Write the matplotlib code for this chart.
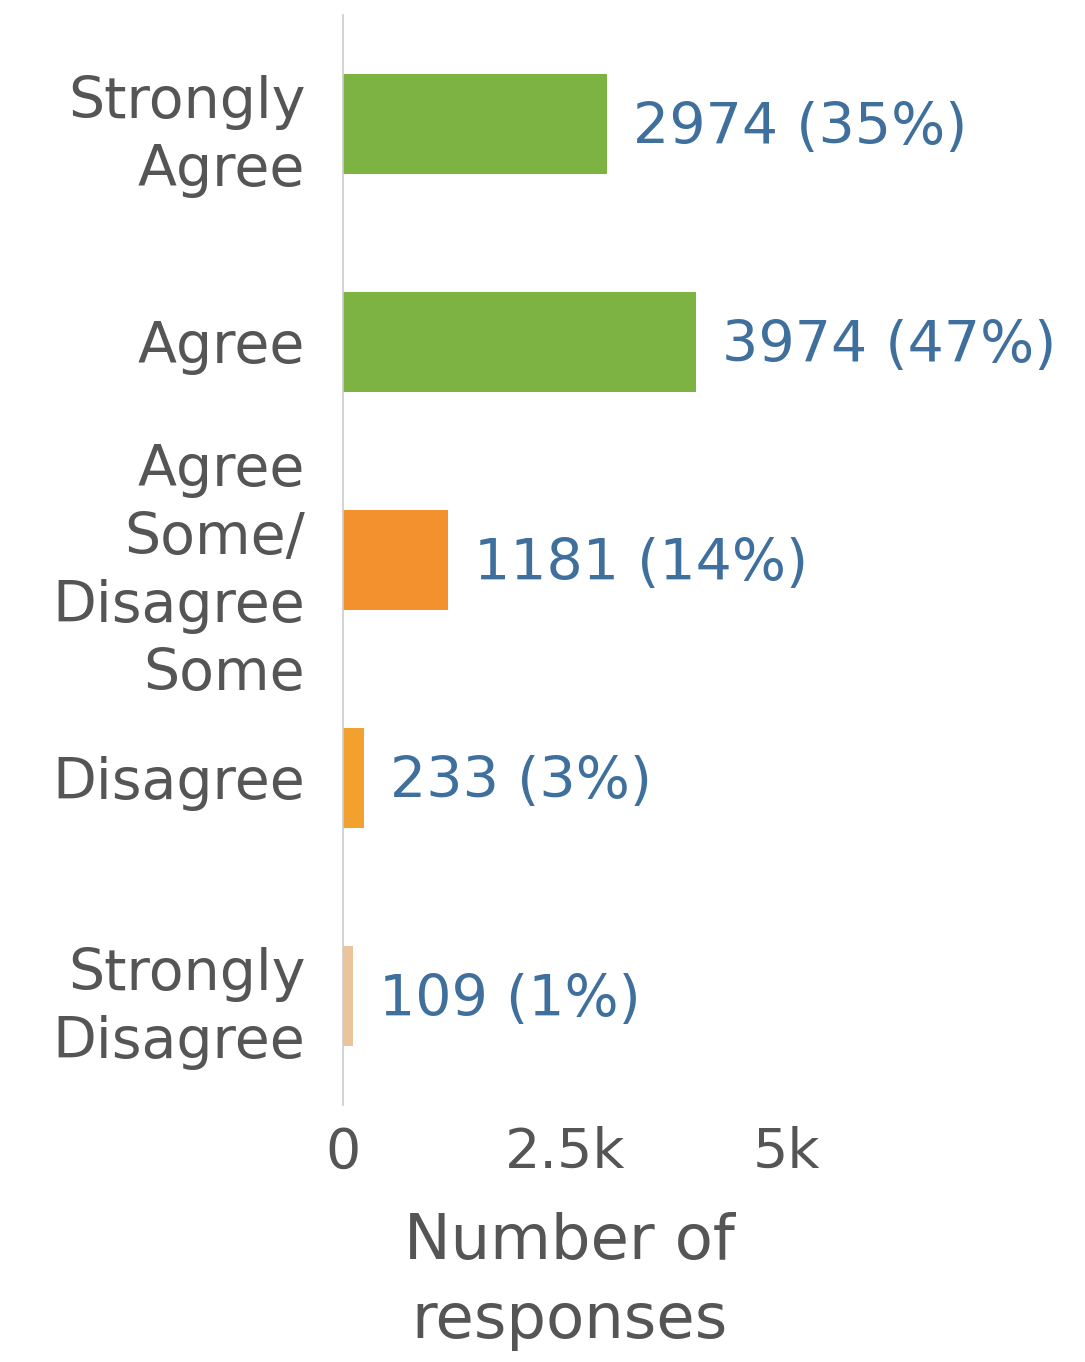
import numpy as np
import matplotlib
matplotlib.use("Agg")
import matplotlib.pyplot as plt
import matplotlib.transforms as mtransforms

# datos
categorias = ["Strongly\nAgree", "Agree", "Agree\nSome/\nDisagree\nSome", "Disagree", "Strongly\nDisagree"]
respuestas = [2974, 3974, 1181, 233, 109]
colores = ["#7cb342", "#7cb342", "#f4912f", "#f2a02e", "#ecc49c"]
ticks_x = [0, 2500, 5000]
ticks_txt = ["0", "2.5k", "5k"]

total = sum(respuestas)
pos = np.arange(len(categorias))

plt.rcParams['font.family'] = ['DejaVu Sans']
fig = plt.figure(figsize=(10.85, 13.62), dpi=100)
ax = fig.add_axes([0.316, 0.1887, 0.684, 0.8003])

ax.barh(pos, respuestas, height=0.46, color=colores)
ax.set_ylim(4.5, -0.5)
ax.set_xlim(0, 8356)

for y, v in zip(pos, respuestas):
    ax.annotate(f"{v} ({round(100 * v / total)}%)", (v, y), xytext=(19, -3),
                textcoords="offset points", va="center", ha="left",
                fontsize=41, color="#3f6f9c")

ax.set_yticks(pos)
ax.set_yticklabels(categorias, fontsize=41, color="#555555")
for t in ax.get_yticklabels():
    t.set_linespacing(1.3)
ax.set_xticks(ticks_x)
ax.set_xticklabels(ticks_txt, fontsize=40, color="#555555")
ax.tick_params(axis="both", length=0)
ax.tick_params(axis="y", pad=27)
ax.tick_params(axis="x", pad=15)

for s in ["top", "right", "bottom"]:
    ax.spines[s].set_visible(False)
ax.spines["left"].set_color("#cccccc")
ax.spines["left"].set_linewidth(1.2)

ax.set_xlabel("Number of\nresponses", fontsize=45, color="#555555", linespacing=1.4)
trans = mtransforms.blended_transform_factory(ax.transData, ax.transAxes)
ax.xaxis.set_label_coords(2550, -0.098, transform=trans)

fig.savefig("out.png", dpi=100, facecolor="white")
